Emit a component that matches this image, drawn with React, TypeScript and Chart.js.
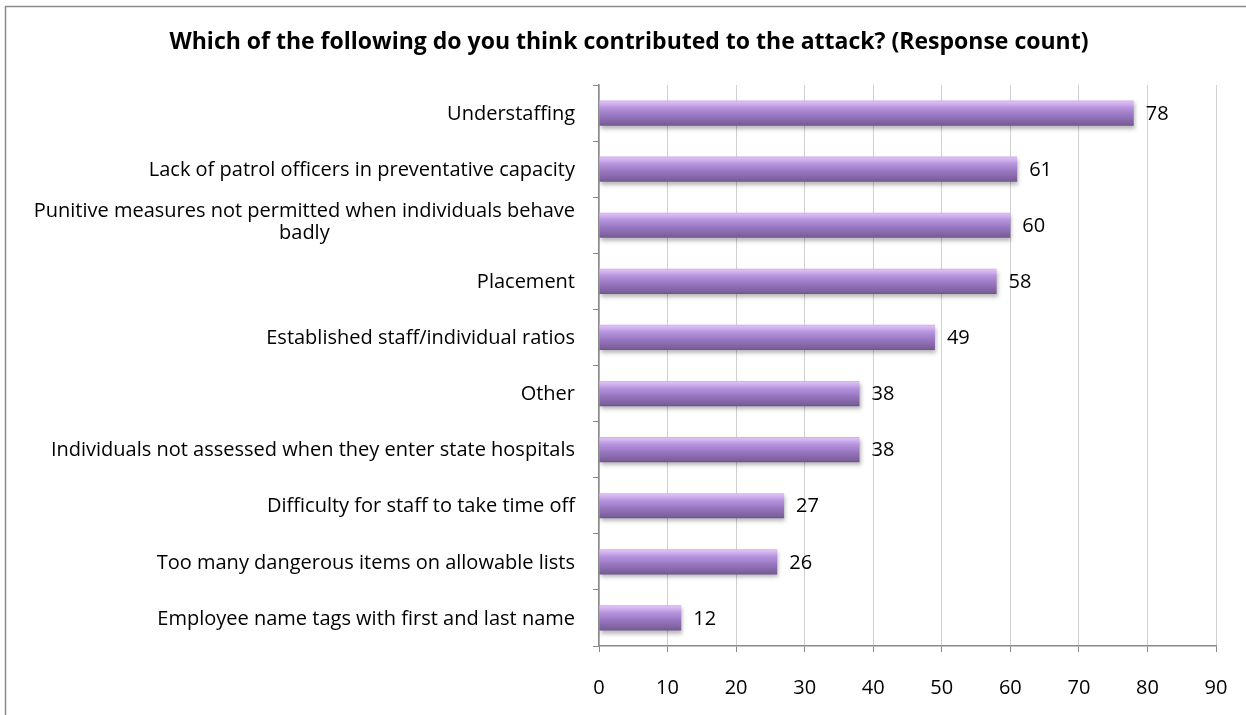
import React, { useEffect, useRef } from "react";
import { Chart, registerables } from "chart.js";

Chart.register(...registerables);

const TITLE = "Which of the following do you think contributed to the attack? (Response count)";
const categories: (string | string[])[] = [
  "Understaffing",
  "Lack of patrol officers in preventative capacity",
  ["Punitive measures not permitted when individuals behave", "badly"],
  "Placement",
  "Established staff/individual ratios",
  "Other",
  "Individuals not assessed when they enter state hospitals",
  "Difficulty for staff to take time off",
  "Too many dangerous items on allowable lists",
  "Employee name tags with first and last name",
];
const responseCounts = [78, 61, 60, 58, 49, 38, 38, 27, 26, 12];
const xMin = 0;
const xMax = 90;
const xStep = 10;

const FONT = "'Open Sans'";
const LABEL_SIZE = 20;

export default function App() {
  const canvasRef = useRef<HTMLCanvasElement | null>(null);

  useEffect(() => {
    const canvas = canvasRef.current;
    if (!canvas) return;

    const frame = {
      id: "frame",
      beforeDraw(chart: any) {
        const ctx = chart.ctx;
        ctx.save();
        ctx.fillStyle = "#ffffff";
        ctx.fillRect(0, 0, chart.width, chart.height);
        ctx.strokeStyle = "#8a8a8a";
        ctx.lineWidth = 1.5;
        ctx.strokeRect(5.5, 6.5, chart.width + 20, chart.height + 20);
        ctx.restore();
      },
    };

    const shadow = {
      id: "barShadow",
      beforeDatasetsDraw(chart: any) {
        const ctx = chart.ctx;
        ctx.save();
        ctx.shadowColor = "rgba(0,0,0,0.28)";
        ctx.shadowBlur = 4;
        ctx.shadowOffsetX = 1;
        ctx.shadowOffsetY = 3;
      },
      afterDatasetsDraw(chart: any) {
        chart.ctx.restore();
      },
    };

    const valueLabels = {
      id: "valueLabels",
      afterDatasetsDraw(chart: any) {
        const ctx = chart.ctx;
        const meta = chart.getDatasetMeta(0);
        ctx.save();
        ctx.font = `${LABEL_SIZE}px ${FONT}`;
        ctx.fillStyle = "#000";
        ctx.textAlign = "left";
        ctx.textBaseline = "middle";
        meta.data.forEach((el: any, i: number) => {
          ctx.fillText(String(chart.data.datasets[0].data[i]), el.x + 12, el.y + 1);
        });
        ctx.restore();
      },
    };

    const catLabels = {
      id: "catLabels",
      afterDraw(chart: any) {
        const ctx = chart.ctx;
        const yScale = chart.scales.y;
        const right = chart.chartArea.left - 24;
        const lh = 22;
        ctx.save();
        ctx.font = `${LABEL_SIZE}px ${FONT}`;
        ctx.fillStyle = "#000";
        ctx.textAlign = "center";
        ctx.textBaseline = "middle";
        (chart.data.labels as any[]).forEach((lab: any, i: number) => {
          const lines: string[] = Array.isArray(lab) ? lab : [lab];
          const maxW = Math.max(...lines.map((l) => ctx.measureText(l).width));
          const cx = right - maxW / 2;
          const cy = yScale.getPixelForValue(i);
          const shift = lines.length > 1 ? -4 : 0;
          const startY = cy - ((lines.length - 1) * lh) / 2 + shift;
          lines.forEach((l, k) => ctx.fillText(l, cx, startY + k * lh + 1));
        });
        ctx.restore();
      },
    };

    const chart = new Chart(canvas, {
      type: "bar",
      data: {
        labels: categories as any,
        datasets: [
          {
            data: responseCounts,
            categoryPercentage: 1,
            barPercentage: 0.45,
            borderWidth: 0,
            backgroundColor: (c: any) => {
              const ch = c.chart;
              const ys = ch.scales?.y;
              if (!ys || c.dataIndex === undefined) return "#9b7bc4";
              const y = ys.getPixelForValue(c.dataIndex);
              if (!Number.isFinite(y)) return "#9b7bc4";
              const h = 13;
              const g = ch.ctx.createLinearGradient(0, y - h, 0, y + h);
              g.addColorStop(0, "#c8a6ea");
              g.addColorStop(0.07, "#dcbef6");
              g.addColorStop(0.3, "#b693dd");
              g.addColorStop(0.6, "#9676bf");
              g.addColorStop(0.9, "#7d609d");
              g.addColorStop(1, "#6b5288");
              return g;
            },
          },
        ],
      },
      options: {
        indexAxis: "y",
        responsive: false,
        maintainAspectRatio: false,
        animation: false,
        layout: { padding: { left: 12, right: 0, top: 0, bottom: 0 } },
        plugins: {
          legend: { display: false },
          tooltip: { enabled: false },
          title: {
            display: true,
            text: TITLE,
            color: "#000",
            font: { family: FONT, size: 23, weight: "bold" },
            padding: { top: 29, bottom: 28.4 },
          },
        },
        scales: {
          x: {
            min: xMin,
            max: xMax,
            ticks: {
              stepSize: xStep,
              color: "#000",
              font: { family: FONT, size: LABEL_SIZE },
              padding: 24,
            },
            grid: {
              color: "#d0d0d0",
              tickColor: "#8a8a8a",
              tickLength: 6,
            },
            border: { color: "#8a8a8a", width: 1.5 },
            afterFit: (s: any) => {
              s.height = 69;
              s.paddingRight = 30;
              s.paddingLeft = 0;
            },
          },
          y: {
            ticks: { display: false },
            grid: {
              drawOnChartArea: false,
              drawTicks: true,
              tickLength: 6,
              color: "#8a8a8a",
              offset: true,
            },
            border: { color: "#8a8a8a", width: 1.5 },
            afterFit: (s: any) => {
              s.width = 587;
            },
          },
        },
      },
      plugins: [frame, shadow, valueLabels, catLabels],
    });

    return () => chart.destroy();
  }, []);

  return (
    <div style={{ position: "fixed", left: 0, top: 0, width: 1246, height: 715, overflow: "hidden" }}>
      <canvas ref={canvasRef} width={1246} height={715} style={{ display: "block", width: 1246, height: 715 }} />
    </div>
  );
}
